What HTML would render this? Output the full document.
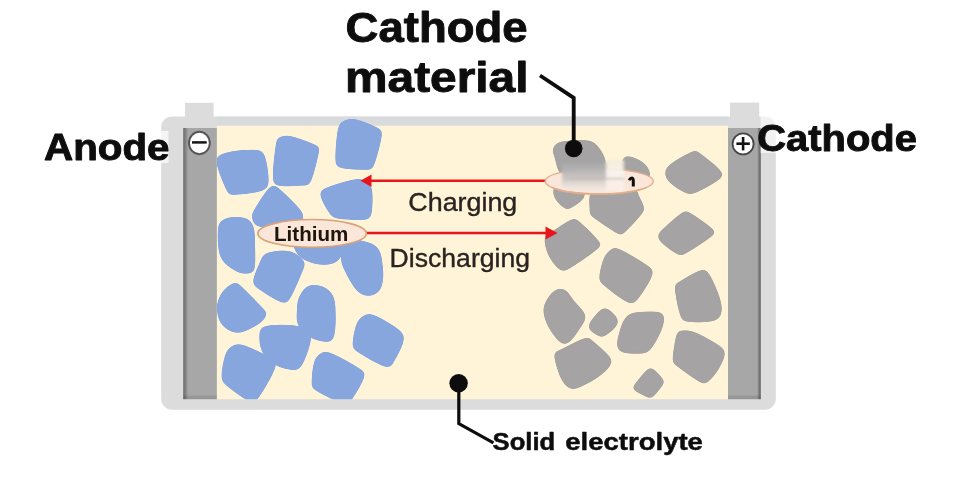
<!DOCTYPE html>
<html><head><meta charset="utf-8"><title>Solid state battery</title>
<style>
html,body{margin:0;padding:0;background:#fff;}
body{width:956px;height:496px;overflow:hidden;font-family:"Liberation Sans",sans-serif;}
svg{display:block}
text{font-family:"Liberation Sans",sans-serif;}
</style></head><body>
<svg width="956" height="496" viewBox="0 0 956 496">
<defs>
<linearGradient id="elL" x1="0" x2="1" y1="0" y2="0"><stop offset="0" stop-color="#6c6c6c"/><stop offset="0.07" stop-color="#828282"/><stop offset="0.15" stop-color="#a7a7a7"/><stop offset="1" stop-color="#a7a7a7"/></linearGradient>
<linearGradient id="elR" x1="1" x2="0" y1="0" y2="0"><stop offset="0" stop-color="#666666"/><stop offset="0.06" stop-color="#7c7c7c"/><stop offset="0.11" stop-color="#a7a7a7"/><stop offset="1" stop-color="#a7a7a7"/></linearGradient>
<clipPath id="inner"><rect x="217" y="118" width="511" height="281.2"/></clipPath>
<filter id="b1" x="-20%" y="-20%" width="140%" height="140%"><feGaussianBlur stdDeviation="0.6"/></filter>
<filter id="rnd" x="-15%" y="-15%" width="130%" height="130%" color-interpolation-filters="sRGB"><feGaussianBlur stdDeviation="2.4"/><feColorMatrix type="matrix" values="1 0 0 0 0 0 1 0 0 0 0 0 1 0 0 0 0 0 9 -4"/><feGaussianBlur stdDeviation="0.55"/></filter>
<filter id="b3" x="-30%" y="-30%" width="160%" height="160%"><feGaussianBlur stdDeviation="3"/></filter>
</defs>
<rect width="956" height="496" fill="#ffffff"/>

<rect x="185" y="102.8" width="28.6" height="20" fill="#dcdcdc"/>
<rect x="730" y="102.6" width="29.2" height="20" fill="#dcdcdc"/>
<rect x="161.2" y="116.4" width="614.6" height="293.4" rx="11" ry="11" fill="#dcdcdc" filter="url(#b1)"/>
<rect x="217" y="116.6" width="511" height="10" fill="#d8dadb" filter="url(#b1)"/>
<rect x="217" y="125.7" width="511" height="273.5" fill="#fff4d7"/>
<rect x="183.2" y="128" width="33.6" height="271.2" fill="url(#elL)"/>
<rect x="728" y="128" width="32.8" height="271.2" fill="url(#elR)"/>
<rect x="183.2" y="395.6" width="33.6" height="3.6" fill="#000" opacity="0.1"/><rect x="728" y="395.6" width="32.8" height="3.6" fill="#000" opacity="0.1"/>
<g clip-path="url(#inner)">
<path d="M216.3 160.3C216.7 153.8 222.5 153.7 228.9 151.9C235.3 150.2 249.1 149.3 255.0 149.8C260.9 150.3 262.2 149.8 264.5 155.0C266.8 160.2 269.1 175.4 268.7 181.3C268.3 187.2 268.3 188.4 262.4 190.7C256.4 193.0 238.9 194.9 233.0 194.9C227.1 194.9 229.6 196.5 226.8 190.7C224.0 184.9 216.0 166.8 216.3 160.3Z" fill="#87a6de" filter="url(#rnd)"/>
<path d="M279.2 137.3C281.8 136.1 285.5 134.8 291.8 136.2C298.1 137.6 312.4 143.0 316.9 145.6C321.4 148.2 320.1 145.8 319.0 151.9C317.9 158.0 313.4 176.7 310.6 182.3C307.8 187.9 307.8 185.0 302.2 185.5C296.6 186.0 282.0 187.2 277.1 185.5C272.2 183.8 273.1 182.0 272.9 175.0C272.7 168.0 274.9 149.8 276.0 143.5C277.1 137.2 276.6 138.5 279.2 137.3Z" fill="#87a6de" filter="url(#rnd)"/>
<path d="M344.2 120.5C347.4 118.9 351.2 118.2 356.8 119.4C362.4 120.6 373.5 125.2 377.7 127.8C381.9 130.4 382.6 128.7 381.9 135.2C381.2 141.7 376.3 160.8 373.5 166.6C370.7 172.3 370.7 169.5 365.1 169.7C359.5 169.9 344.9 169.3 340.0 167.7C335.1 166.1 335.8 166.8 335.4 160.3C335.0 153.8 336.4 135.5 337.9 128.9C339.4 122.3 341.0 122.1 344.2 120.5Z" fill="#87a6de" filter="url(#rnd)"/>
<path d="M270.8 186.2C275.2 183.2 276.4 186.6 281.3 190.4C286.2 194.2 296.4 204.8 300.1 209.3C303.8 213.9 303.7 215.1 303.3 217.7C302.9 220.3 305.2 223.4 298.0 225.0C290.8 226.6 268.0 228.3 260.3 227.1C252.6 225.9 252.8 220.8 251.9 217.7C251.0 214.5 251.9 213.4 255.1 208.2C258.2 202.9 266.4 189.2 270.8 186.2Z" fill="#87a6de" filter="url(#rnd)"/>
<path d="M320.1 194.6C319.8 190.2 321.3 189.9 327.4 187.3C333.5 184.7 349.8 179.4 356.8 178.9C363.8 178.4 366.7 181.7 369.3 184.1C371.9 186.5 372.1 188.4 372.5 193.5C372.9 198.6 372.6 210.1 371.4 214.5C370.2 218.9 370.7 219.0 365.1 219.7C359.5 220.4 343.8 219.7 337.9 218.7C332.0 217.7 332.5 217.5 329.5 213.5C326.5 209.5 320.5 199.0 320.1 194.6Z" fill="#87a6de" filter="url(#rnd)"/>
<path d="M218.0 228.0C218.6 221.6 221.0 220.8 224.0 219.0C227.0 217.2 232.0 217.0 236.0 217.0C240.0 217.0 245.0 217.2 248.0 219.0C251.0 220.8 252.8 223.7 254.0 228.0C255.2 232.3 254.9 238.7 255.1 245.0C255.3 251.3 255.6 260.9 255.1 265.6C254.6 270.3 254.9 271.9 251.9 273.0C248.9 274.1 242.5 274.5 237.3 271.9C232.1 269.3 223.7 264.6 220.5 257.3C217.3 250.0 217.4 234.4 218.0 228.0Z" fill="#87a6de" filter="url(#rnd)"/>
<path d="M266.6 253.1C271.7 251.0 283.4 249.6 289.7 251.0C296.0 252.4 302.2 257.9 304.3 261.4C306.4 264.9 304.6 265.6 302.2 271.9C299.8 278.2 293.2 294.1 289.7 299.2C286.2 304.3 286.6 304.1 281.3 302.3C276.1 300.6 262.9 292.2 258.2 288.7C253.5 285.2 252.8 285.6 253.0 281.4C253.2 277.2 257.0 268.2 259.3 263.5C261.6 258.8 261.5 255.2 266.6 253.1Z" fill="#87a6de" filter="url(#rnd)"/>
<path d="M294.0 235.0C285.6 237.0 292.7 243.2 293.9 247.0C295.1 250.8 296.8 255.1 301.0 258.0C305.2 260.9 313.2 263.9 319.0 264.6C324.8 265.4 331.6 264.9 335.8 262.5C340.0 260.1 342.6 254.6 344.0 250.0C345.4 245.4 352.3 237.5 344.0 235.0C335.7 232.5 302.4 233.0 294.0 235.0Z" fill="#87a6de" filter="url(#rnd)"/>
<path d="M344.2 240.0C350.0 237.9 369.1 241.1 375.6 245.7C382.1 250.3 382.1 260.5 383.0 267.7C383.9 274.9 383.2 284.0 380.9 288.7C378.6 293.4 373.3 295.6 369.3 296.0C365.3 296.4 361.0 295.2 356.8 290.8C352.6 286.4 346.8 275.3 344.2 269.8C341.6 264.3 341.0 263.0 341.0 258.0C341.0 253.0 338.4 242.1 344.2 240.0Z" fill="#87a6de" filter="url(#rnd)"/>
<path d="M235.0 282.5C238.2 281.8 237.1 282.5 242.0 287.0C246.9 291.5 260.4 305.1 264.5 309.7C268.6 314.3 267.3 312.5 266.6 314.7C265.9 316.9 264.5 320.0 260.3 323.0C256.1 326.0 246.6 331.3 241.4 332.5C236.2 333.7 232.6 332.3 228.9 330.4C225.2 328.5 221.4 325.2 219.4 321.0C217.4 316.8 216.4 310.0 217.0 305.0C217.6 300.0 220.0 294.8 223.0 291.0C226.0 287.2 231.8 283.2 235.0 282.5Z" fill="#87a6de" filter="url(#rnd)"/>
<path d="M308.5 285.6C312.5 283.9 319.0 284.7 323.2 286.6C327.4 288.5 331.6 291.7 333.7 297.1C335.8 302.5 335.8 312.2 335.8 319.0C335.8 325.8 335.1 333.9 333.7 337.7C332.3 341.5 331.2 341.9 327.4 341.9C323.5 341.9 315.5 340.5 310.6 337.7C305.7 334.9 300.3 330.1 298.0 325.2C295.7 320.3 296.8 313.1 297.0 308.4C297.2 303.7 297.1 300.8 299.0 297.0C300.9 293.2 304.5 287.3 308.5 285.6Z" fill="#87a6de" filter="url(#rnd)"/>
<path d="M264.5 326.2C270.3 324.5 286.6 324.3 293.9 325.2C301.2 326.1 305.7 328.6 308.5 331.4C311.3 334.2 311.7 336.3 310.6 341.9C309.6 347.5 305.0 360.3 302.2 365.0C299.4 369.7 298.4 370.2 293.9 370.2C289.4 370.2 280.2 368.0 275.0 365.0C269.8 362.0 265.0 357.3 262.4 352.4C259.8 347.5 258.9 340.0 259.3 335.6C259.7 331.2 258.7 327.9 264.5 326.2Z" fill="#87a6de" filter="url(#rnd)"/>
<path d="M231.0 346.6C234.1 344.6 236.1 342.7 243.0 344.8C249.9 346.9 266.9 355.2 272.2 359.2C277.5 363.1 277.1 362.3 275.0 368.5C272.9 374.7 263.7 391.0 259.5 396.5C255.3 402.0 255.4 403.2 250.0 401.5C244.6 399.8 231.6 390.0 226.8 386.0C222.1 382.0 221.8 382.5 221.5 377.6C221.2 372.7 223.1 361.8 224.7 356.6C226.3 351.4 227.9 348.6 231.0 346.6Z" fill="#87a6de" filter="url(#rnd)"/>
<path d="M319.0 354.5C321.6 352.8 322.5 349.9 329.5 352.4C336.5 354.8 355.1 365.0 360.9 369.2C366.7 373.4 365.5 372.7 364.1 377.6C362.7 382.5 355.9 394.1 352.6 398.5C349.3 402.9 350.5 405.2 344.2 403.8C337.9 402.4 320.2 393.8 314.8 390.1C309.4 386.4 311.9 386.3 311.7 381.8C311.5 377.3 312.6 367.4 313.8 362.9C315.0 358.3 316.4 356.2 319.0 354.5Z" fill="#87a6de" filter="url(#rnd)"/>
<path d="M365.1 314.7C368.2 313.5 370.0 313.2 375.6 315.7C381.2 318.1 394.0 325.4 398.7 329.4C403.4 333.4 404.6 334.6 403.9 339.8C403.2 345.0 397.5 356.2 394.5 360.8C391.5 365.4 392.4 368.7 386.1 367.1C379.8 365.5 362.4 355.2 356.8 351.4C351.2 347.5 352.6 348.7 352.6 344.0C352.6 339.3 354.7 328.0 356.8 323.1C358.9 318.2 362.0 315.9 365.1 314.7Z" fill="#87a6de" filter="url(#rnd)"/>
<path d="M553.1 147.7C554.3 145.2 555.5 142.6 561.4 141.4C567.3 140.2 582.4 139.4 588.7 140.4C595.0 141.4 596.4 144.4 599.2 147.7C602.0 151.0 604.4 155.2 605.5 160.3C606.6 165.4 612.8 175.1 606.0 178.0C599.2 180.9 573.6 181.7 565.0 178.0C556.4 174.3 556.1 161.2 554.1 156.1C552.1 151.0 551.9 150.1 553.1 147.7Z" fill="#a5a3a3" filter="url(#rnd)"/>
<path d="M622.2 160.3C623.3 156.3 625.0 155.8 628.5 156.1C632.0 156.4 639.7 159.9 643.2 162.4C646.7 164.9 648.8 167.9 649.5 170.8C650.2 173.7 652.0 178.5 647.4 180.0C642.8 181.5 626.2 183.3 622.0 180.0C617.8 176.7 621.1 164.3 622.2 160.3Z" fill="#a5a3a3" filter="url(#rnd)"/>
<path d="M665.2 170.8C665.9 167.7 667.9 165.7 672.6 162.4C677.3 159.1 689.0 152.5 693.5 150.9C698.0 149.3 695.2 149.7 699.8 153.0C704.3 156.3 717.5 166.4 720.8 170.8C724.1 175.2 723.9 175.5 719.7 179.2C715.5 182.9 701.4 190.5 695.6 192.8C689.8 195.1 689.7 194.7 685.1 192.8C680.5 190.9 671.6 185.0 668.3 181.3C665.0 177.6 664.5 174.0 665.2 170.8Z" fill="#a5a3a3" filter="url(#rnd)"/>
<path d="M556.0 185.0C560.3 183.0 575.2 182.9 580.0 185.0C584.8 187.1 586.2 193.3 584.5 197.3C582.8 201.3 573.3 207.1 569.8 208.8C566.3 210.5 566.1 209.7 563.5 207.7C560.9 205.7 555.4 200.8 554.1 197.0C552.9 193.2 551.7 187.0 556.0 185.0Z" fill="#a5a3a3" filter="url(#rnd)"/>
<path d="M594.0 188.0C601.2 184.2 625.2 186.6 632.7 188.0C640.2 189.4 637.1 192.9 639.0 196.2C640.9 199.5 643.9 204.5 644.3 207.7C644.6 210.8 644.4 210.9 641.1 215.1C637.8 219.3 628.1 229.8 624.3 232.9C620.5 236.0 623.3 236.5 618.1 233.9C612.9 231.3 597.6 221.0 592.9 217.2C588.2 213.4 589.5 215.8 589.7 210.9C589.9 206.0 586.8 191.8 594.0 188.0Z" fill="#a5a3a3" filter="url(#rnd)"/>
<path d="M544.7 237.1C545.6 233.2 548.6 233.8 553.1 230.8C557.6 227.8 567.5 220.9 571.9 219.3C576.3 217.7 574.9 217.9 579.3 221.4C583.7 224.9 594.8 235.8 598.1 240.2C601.4 244.6 603.9 242.9 599.2 247.6C594.5 252.3 576.4 264.8 569.8 268.5C563.2 272.2 563.1 272.0 559.4 269.6C555.7 267.2 550.2 259.3 547.8 253.9C545.3 248.5 543.8 240.9 544.7 237.1Z" fill="#a5a3a3" filter="url(#rnd)"/>
<path d="M657.9 235.0C658.4 232.6 660.0 231.5 664.2 227.7C668.4 223.8 678.6 214.3 683.0 211.9C687.4 209.5 685.5 210.2 690.4 213.0C695.3 215.8 708.6 225.0 712.4 228.7C716.2 232.4 717.9 230.8 713.4 235.0C708.9 239.2 691.2 250.8 685.1 253.9C679.0 257.1 680.8 255.8 676.8 253.9C672.8 252.0 664.1 245.5 661.0 242.3C657.9 239.2 657.4 237.4 657.9 235.0Z" fill="#a5a3a3" filter="url(#rnd)"/>
<path d="M609.7 250.5C612.2 248.8 611.8 246.0 618.1 248.4C624.4 250.8 641.6 260.8 647.4 265.2C653.1 269.6 654.0 269.2 652.6 274.6C651.2 280.0 643.0 293.0 639.0 297.7C635.0 302.4 634.4 305.0 628.5 302.9C622.6 300.8 608.3 289.3 603.4 285.1C598.5 280.9 599.2 282.1 599.2 277.7C599.2 273.3 601.6 263.4 603.4 258.9C605.1 254.4 607.2 252.2 609.7 250.5Z" fill="#a5a3a3" filter="url(#rnd)"/>
<path d="M674.7 287.2C674.5 281.8 674.6 284.7 678.8 281.9C683.0 279.1 694.9 272.0 699.8 270.4C704.7 268.8 705.1 268.5 708.2 272.5C711.4 276.5 716.4 288.0 718.7 294.5C721.0 301.0 722.5 306.9 721.8 311.3C721.1 315.7 720.3 318.9 714.5 320.7C708.7 322.4 693.0 322.9 687.2 321.8C681.4 320.8 682.0 320.2 679.9 314.4C677.8 308.6 674.9 292.6 674.7 287.2Z" fill="#a5a3a3" filter="url(#rnd)"/>
<path d="M543.6 307.1C544.7 301.7 549.6 294.4 553.1 291.4C556.6 288.4 561.1 287.7 564.6 289.3C568.1 290.9 570.5 296.4 574.0 300.8C577.5 305.2 584.6 310.9 585.6 315.5C586.6 320.1 583.1 323.6 580.3 328.1C577.5 332.6 572.3 340.4 568.8 342.7C565.3 345.0 563.1 344.8 559.4 341.7C555.7 338.6 549.4 329.7 546.8 323.9C544.2 318.1 542.5 312.5 543.6 307.1Z" fill="#a5a3a3" filter="url(#rnd)"/>
<path d="M589.7 322.8C591.6 319.3 598.1 311.5 601.3 309.2C604.4 306.9 605.8 307.4 608.6 309.2C611.4 310.9 617.1 316.5 618.1 319.7C619.1 322.9 617.2 325.3 614.9 328.1C612.6 330.9 607.0 335.0 604.4 336.4C601.8 337.8 601.7 337.4 599.2 336.4C596.8 335.3 591.3 332.4 589.7 330.1C588.1 327.8 587.8 326.3 589.7 322.8Z" fill="#a5a3a3" filter="url(#rnd)"/>
<path d="M625.4 317.8C627.8 315.0 629.0 313.5 634.8 312.6C640.6 311.7 655.1 311.1 660.0 312.2C664.9 313.2 664.0 315.7 664.2 318.9C664.4 322.1 663.1 326.5 661.0 331.4C658.9 336.3 654.6 344.5 651.6 348.2C648.6 351.9 648.1 352.8 643.2 353.5C638.3 354.2 626.6 353.8 622.2 352.4C617.8 351.0 617.4 348.9 617.0 345.1C616.6 341.3 618.7 333.9 620.1 329.4C621.5 324.8 623.0 320.6 625.4 317.8Z" fill="#a5a3a3" filter="url(#rnd)"/>
<path d="M676.8 333.5C678.5 328.6 679.9 330.6 683.0 330.4C686.1 330.2 689.6 330.1 695.6 332.5C701.6 334.9 713.8 341.6 718.7 345.1C723.6 348.6 725.0 349.5 725.0 353.5C725.0 357.5 721.5 364.5 718.7 369.2C715.9 373.9 711.2 379.5 708.2 381.8C705.2 384.1 706.1 385.4 700.9 382.8C695.7 380.2 681.5 369.9 676.8 366.0C672.1 362.1 672.6 365.1 672.6 359.7C672.6 354.3 675.1 338.4 676.8 333.5Z" fill="#a5a3a3" filter="url(#rnd)"/>
<path d="M554.1 354.5C554.3 349.8 556.1 352.1 561.4 349.3C566.6 346.5 580.4 339.1 585.6 337.7C590.9 336.3 588.9 337.8 592.9 340.9C596.9 344.0 606.7 352.6 609.7 356.6C612.7 360.6 612.5 361.7 610.7 365.0C609.0 368.3 604.6 372.6 599.2 376.5C593.8 380.4 583.3 386.2 578.2 388.1C573.1 390.0 571.8 389.9 568.8 388.1C565.8 386.4 562.8 383.2 560.4 377.6C558.0 372.0 553.9 359.2 554.1 354.5Z" fill="#a5a3a3" filter="url(#rnd)"/>
<path d="M632.7 387.0C635.0 383.5 643.9 372.2 647.4 369.2C650.9 366.2 650.9 367.3 653.7 369.2C656.5 371.1 662.8 377.9 664.2 380.7C665.6 383.5 664.0 383.2 662.1 386.0C660.2 388.8 655.1 395.6 652.6 397.5C650.1 399.4 650.5 398.7 647.4 397.5C644.3 396.3 636.2 391.9 633.8 390.1C631.3 388.4 630.4 390.5 632.7 387.0Z" fill="#a5a3a3" filter="url(#rnd)"/>
</g>
<g filter="url(#b1)">
<line x1="369" y1="180.7" x2="546" y2="180.7" stroke="#e8141c" stroke-width="2.6"/>
<polygon points="360.5,180.7 371.5,174.5 371.5,187" fill="#e8141c"/>
<line x1="366" y1="233" x2="547" y2="233" stroke="#e8141c" stroke-width="2.6"/>
<polygon points="557.5,233 545.5,226.5 545.5,239.5" fill="#e8141c"/>
</g>
<ellipse cx="312.1" cy="233.4" rx="54.2" ry="13.9" fill="#fbe6da" stroke="#d6a37b" stroke-width="1.7" filter="url(#b1)"/>
<text x="274" y="240.5" font-size="19.4" font-weight="700" fill="#1f120c" filter="url(#b1)" textLength="74.3" lengthAdjust="spacingAndGlyphs">Lithium</text>
<ellipse cx="599.2" cy="181.3" rx="54" ry="12.6" fill="#fbe6da" stroke="#e2ad8b" stroke-width="1.4"/>
<path d="M629.4 180.4C630 177.6 633.3 177 633.3 180.8L633.3 186.6" fill="none" stroke="#111" stroke-width="3" filter="url(#b1)"/>
<defs><linearGradient id="sm1" x1="0" x2="0" y1="0" y2="1"><stop offset="0" stop-color="#a9a9ab" stop-opacity="0.97"/><stop offset="0.3" stop-color="#b7b5b5" stop-opacity="0.97"/><stop offset="0.58" stop-color="#cdc8c5" stop-opacity="0.97"/><stop offset="0.82" stop-color="#e9e0da" stop-opacity="0.95"/><stop offset="1" stop-color="#f6e9e0" stop-opacity="0.9"/></linearGradient><linearGradient id="sm2" x1="0" x2="0" y1="0" y2="1"><stop offset="0" stop-color="#f3ecd9" stop-opacity="0.9"/><stop offset="0.4" stop-color="#f8f3ee" stop-opacity="0.95"/><stop offset="1" stop-color="#fbeee6" stop-opacity="0.9"/></linearGradient><filter id="bh" x="-10%" y="-10%" width="120%" height="120%"><feGaussianBlur stdDeviation="1.6 0.8"/></filter></defs>
<g filter="url(#bh)"><rect x="562" y="163" width="45" height="28" fill="url(#sm1)"/><rect x="606" y="160" width="18" height="31.5" fill="url(#sm2)"/><rect x="568" y="177.6" width="56" height="2.2" fill="#b9b2ae" opacity="0.55"/></g>
<path d="M552 187.5A54 12.6 0 0 0 646 187.8" fill="none" stroke="#e2ad8b" stroke-width="1.4"/>
<g filter="url(#b1)" fill="#2a2320" stroke="#2a2320" stroke-width="0.35">
<text x="408.3" y="211" font-size="25" textLength="109" lengthAdjust="spacingAndGlyphs">Charging</text>
<text x="389.6" y="266.5" font-size="25" textLength="140.5" lengthAdjust="spacingAndGlyphs">Discharging</text>
</g>
<g filter="url(#b1)">
<polyline points="540,75.5 573.7,97.8 573.7,148" fill="none" stroke="#0a0a0a" stroke-width="3.8" stroke-linejoin="miter"/>
<circle cx="573.7" cy="148.5" r="8.8" fill="#0a0a0a"/>
<polyline points="458.8,383 458.8,423.6 493.5,442.8" fill="none" stroke="#0a0a0a" stroke-width="3.2" stroke-linejoin="miter"/>
<circle cx="458.6" cy="383.2" r="9.2" fill="#0a0a0a"/>
</g>
<rect x="159" y="131" width="9.5" height="32" fill="#ffffff" opacity="0.7" filter="url(#b1)"/>
<rect x="760.6" y="115" width="17" height="38" fill="#ffffff" opacity="0.62" filter="url(#b1)"/>
<ellipse cx="199.4" cy="143" rx="10.4" ry="11.2" fill="#ffffff" stroke="#555555" stroke-width="1.9" filter="url(#b1)"/>
<line x1="192" y1="142.4" x2="206.7" y2="142.4" stroke="#151515" stroke-width="2.5"/>
<circle cx="743.1" cy="143.9" r="10.5" fill="#ffffff" stroke="#444444" stroke-width="1.8" filter="url(#b1)"/>
<line x1="736.4" y1="143.7" x2="749.8" y2="143.7" stroke="#111" stroke-width="2.6"/>
<line x1="743.1" y1="137" x2="743.1" y2="150.4" stroke="#111" stroke-width="2.6"/>
<g filter="url(#b1)" fill="#0a0a0a" stroke="#0a0a0a" stroke-width="0.9" stroke-linejoin="round" font-weight="700">
<text x="345.6" y="41.9" font-size="42.5" textLength="182" lengthAdjust="spacingAndGlyphs">Cathode</text>
<text x="345" y="91.8" font-size="42.5" textLength="183.5" lengthAdjust="spacingAndGlyphs">material</text>
<text x="44" y="160.4" font-size="37" textLength="125.5" lengthAdjust="spacingAndGlyphs">Anode</text>
<text x="757.3" y="151.4" font-size="36.5" textLength="159.6" lengthAdjust="spacingAndGlyphs">Cathode</text>
<g stroke-width="0.45"><text x="492.6" y="449.9" font-size="23.5" textLength="62.6" lengthAdjust="spacingAndGlyphs">Solid</text><text x="565.3" y="449.9" font-size="23.5" textLength="137.6" lengthAdjust="spacingAndGlyphs">electrolyte</text></g>
</g>
</svg>
</body></html>
